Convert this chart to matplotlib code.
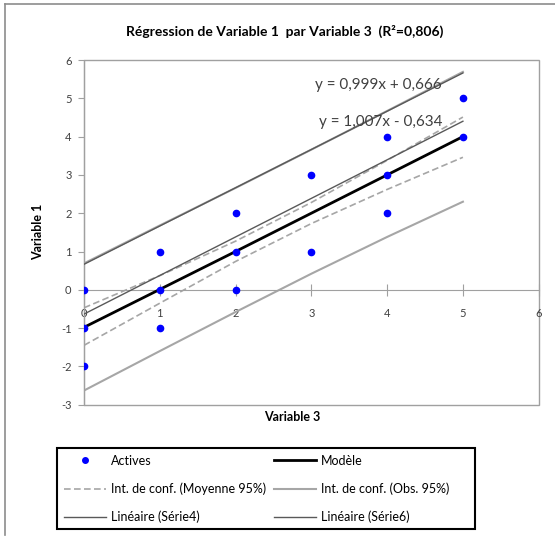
import numpy as np
import matplotlib.pyplot as plt
from matplotlib.lines import Line2D
from matplotlib.patches import Rectangle

plt.rcParams['font.family'] = ['Lato', 'DejaVu Sans']
plt.rcParams['axes.unicode_minus'] = False

# observations (Variable 3, Variable 1)
var3 = [0, 0, 0, 1, 1, 1, 2, 2, 2, 3, 3, 4, 4, 4, 5, 5]
var1 = [0, -1, -2, 1, 0, -1, 2, 1, 0, 3, 1, 4, 3, 2, 5, 4]

# model and confidence bands read at x = 0..5
x_band = [0, 1, 2, 3, 4, 5]
model = [-0.98, 0.01, 1.0, 2.0, 3.0, 4.0]
mean_hi = [-0.47, 0.37, 1.27, 2.28, 3.38, 4.51]
mean_lo = [-1.45, -0.35, 0.74, 1.73, 2.62, 3.46]
obs_hi = [0.69, 1.68, 2.66, 3.66, 4.67, 5.69]
obs_lo = [-2.63, -1.60, -0.58, 0.42, 1.38, 2.30]

# trendline coefficients shown on the chart
trend4 = (0.999, 0.666)
trend6 = (1.007, -0.634)

W, H = 555, 539
fig = plt.figure(figsize=(W / 100, H / 100), dpi=100)

# outer chart border
fig.add_artist(Line2D([5 / W, 5 / W], [1 - 4 / H, 1 - 535 / H], color='#8c8c8c', lw=1.2))
fig.add_artist(Line2D([5 / W, 1], [1 - 4 / H, 1 - 4 / H], color='#8c8c8c', lw=1.2))

L, R, T, B = 84, 538.7, 60, 404.7
ax = fig.add_axes([L / W, 1 - B / H, (R - L) / W, (B - T) / H])

band_c = '#a6a6a6'
trend_c = '#595959'
xb = np.array(x_band)

ax.plot(x_band, obs_hi, color=band_c, lw=1.5, zorder=2)
ax.plot(x_band, obs_lo, color=band_c, lw=1.5, zorder=2)
ax.plot(x_band, mean_hi, color=band_c, lw=1.2, ls=(0, (4, 2)), zorder=2)
ax.plot(x_band, mean_lo, color=band_c, lw=1.2, ls=(0, (4, 2)), zorder=2)
ax.plot(x_band, model, color='black', lw=2, zorder=3)
ax.plot(xb, trend4[0] * xb + trend4[1], color=trend_c, lw=1, zorder=3)
ax.plot(xb, trend6[0] * xb + trend6[1], color=trend_c, lw=1, zorder=3)
ax.plot(var3, var1, 'o', color='#0000ff', ms=4.5, zorder=4)

ax.text(315 / W, 1 - 85 / H, 'y = 0,999x + 0,666', transform=fig.transFigure,
        fontsize=11, color='#404040', va='center', ha='left')
ax.text(319 / W, 1 - 122 / H, 'y = 1,007x - 0,634', transform=fig.transFigure,
        fontsize=11, color='#404040', va='center', ha='left')

ax.set_xlim(0, 6)
ax.set_ylim(-3, 6)
ax.set_xticks(range(0, 7))
ax.set_yticks(range(-3, 7))

axis_c = '#a0a0a0'
for s in ['top', 'right']:
    ax.spines[s].set_visible(False)
ax.spines['left'].set_color(axis_c)
ax.spines['bottom'].set_color(axis_c)
ax.spines['bottom'].set_position(('data', 0))
ax.add_patch(Rectangle((0, 0), 1, 1, transform=ax.transAxes, fill=False,
                       edgecolor=axis_c, lw=1, clip_on=False, zorder=1))
ax.tick_params(axis='x', direction='inout', length=8, color=axis_c,
               labelsize=8, labelcolor='#404040', pad=9)
ax.tick_params(axis='y', direction='out', length=4, color=axis_c,
               labelsize=8, labelcolor='#404040', pad=5)

fig.text(285 / W, 1 - 31 / H, 'Régression de Variable 1  par Variable 3  (R²=0,806)',
         fontsize=10, fontweight='bold', ha='center', va='center')
fig.text(38 / W, 1 - 232 / H, 'Variable 1', rotation=90, fontsize=9,
         fontweight='bold', ha='center', va='center')
fig.text(292 / W, 1 - 417 / H, 'Variable 3', fontsize=9,
         fontweight='bold', ha='center', va='center')

# legend
fig.add_artist(Rectangle((57.3 / W, 1 - 529 / H), (475 - 57.3) / W, (529 - 447.7) / H,
                         transform=fig.transFigure, fill=False, edgecolor='black', lw=1.5))
handles = [
    Line2D([], [], marker='o', color='#0000ff', ls='none', ms=4),
    Line2D([], [], color=band_c, lw=1.2, ls=(0, (4, 2))),
    Line2D([], [], color=trend_c, lw=1),
    Line2D([], [], color='black', lw=2),
    Line2D([], [], color=band_c, lw=1.5),
    Line2D([], [], color=trend_c, lw=1),
]
labels = ['Actives', 'Int. de conf. (Moyenne 95%)', 'Linéaire (Série4)',
          'Modèle', 'Int. de conf. (Obs. 95%)', 'Linéaire (Série6)']
fig.legend(handles, labels, ncol=2, loc='upper left', frameon=False,
           bbox_to_anchor=(60 / W, 1 - 451 / H), borderaxespad=0, borderpad=0.3,
           fontsize=9, handlelength=3.4, handletextpad=0.4, columnspacing=0.6,
           labelspacing=1.25)

fig.savefig('out.png', dpi=100)
